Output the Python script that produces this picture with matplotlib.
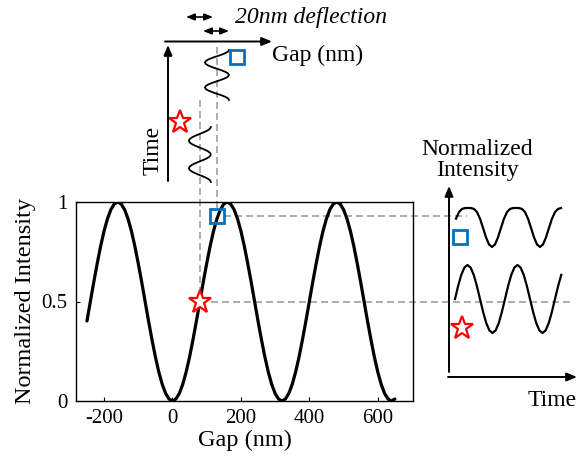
import matplotlib.pyplot as plt
import numpy as np

plt.rcParams['font.family'] = ['Liberation Serif', 'DejaVu Serif']

# main curve: normalized intensity read every 10 nm of gap
gap_nm = np.arange(-250, 660, 10)
intensity = [0.402, 0.5, 0.598, 0.691, 0.778, 0.854, 0.916, 0.962, 0.990, 1.0,
             0.990, 0.962, 0.916, 0.854, 0.778, 0.691, 0.598, 0.5, 0.402, 0.309,
             0.222, 0.146, 0.084, 0.038, 0.010, 0.0,
             0.010, 0.038, 0.084, 0.146, 0.222, 0.309, 0.402, 0.5,
             0.598, 0.691, 0.778, 0.854, 0.916, 0.962, 0.990, 1.0,
             0.990, 0.962, 0.916, 0.854, 0.778, 0.691, 0.598, 0.5,
             0.402, 0.309, 0.222, 0.146, 0.084, 0.038, 0.010, 0.0,
             0.010, 0.038, 0.084, 0.146, 0.222, 0.309, 0.402, 0.5,
             0.598, 0.691, 0.778, 0.854, 0.916, 0.962, 0.990, 1.0,
             0.990, 0.962, 0.916, 0.854, 0.778, 0.691, 0.598, 0.5,
             0.402, 0.309, 0.222, 0.146, 0.084, 0.038, 0.010, 0.0,
             0.010]

# operating points
star_gap, star_int = 80, 0.5
square_gap, square_int = 130, 0.93

xticks = [-200, 0, 200, 400, 600]
yticks = [0, 0.5, 1]
ytick_labels = ['0', '0.5', '1']

# gap vs time wiggle, one period sampled every 1/16
wiggle = [1, 0.924, 0.707, 0.383, 0, -0.383, -0.707, -0.924,
          -1, -0.924, -0.707, -0.383, 0, 0.383, 0.707, 0.924]

# intensity vs time traces (normalized 0..1), every 1/16 period
trace_square = [0.727, 0.895, 0.976, 0.998, 1.0, 0.998, 0.976, 0.895, 0.727,
                0.492, 0.249, 0.066, 0.0, 0.066, 0.249, 0.492, 0.727, 0.895,
                0.976, 0.998, 1.0, 0.998, 0.976, 0.895, 0.727, 0.492, 0.249,
                0.066, 0.0, 0.066, 0.249, 0.492, 0.727, 0.895, 0.976, 0.998]
trace_star = [0.5, 0.691, 0.854, 0.962, 1.0, 0.962, 0.854, 0.691, 0.5, 0.309,
              0.146, 0.038, 0.0, 0.038, 0.146, 0.309, 0.5, 0.691, 0.854, 0.962,
              1.0, 0.962, 0.854, 0.691, 0.5, 0.309, 0.146, 0.038, 0.0, 0.038,
              0.146, 0.309, 0.5, 0.691, 0.854]

W, H = 588, 459
blue = '#0072BD'
red = '#FF0000'
dash_col = '#a0a0a0'

fig = plt.figure(figsize=(W / 100, H / 100), dpi=100)

# overlay in pixel coordinates (y downwards) for the schematic parts
ov = fig.add_axes([0, 0, 1, 1], zorder=0)
ov.set_xlim(0, W)
ov.set_ylim(H, 0)
ov.axis('off')

ax = fig.add_axes([76 / W, (H - 401) / H, 337 / W, 199 / H], zorder=1)
ax.patch.set_alpha(0)
ax.plot(gap_nm, intensity, color='black', lw=2.3, solid_capstyle='round')
ax.set_xlim(-282, 703)
ax.set_ylim(0, 1)
ax.set_xticks(xticks)
ax.set_xticklabels([f'{t}' for t in xticks])
ax.set_yticks(yticks)
ax.set_yticklabels(ytick_labels)
ax.tick_params(direction='in', length=3, labelsize=15, pad=6)
ax.set_xlabel('Gap (nm)', fontsize=17.5, labelpad=1)
ax.set_ylabel('Normalized Intensity', fontsize=17.5, labelpad=4)
for s in ax.spines.values():
    s.set_linewidth(1.0)

ax.plot(star_gap, star_int, marker='*', ms=17, mfc='white', mec=red, mew=1.6, zorder=5)
ax.plot(square_gap, square_int, marker='s', ms=9.5, mfc='none', mec=blue, mew=2, zorder=5)


def to_px(x, y):
    dx, dy = ax.transData.transform((x, y))
    return dx, H - dy


sx, sy = to_px(star_gap, star_int)
qx, qy = to_px(square_gap, square_int)

dash_kw = dict(color=dash_col, lw=1.2, dashes=(4.2, 2.4))
ov.plot([sx, sx], [100, sy - 10], **dash_kw)
ov.plot([qx, qx], [47, qy - 7], **dash_kw)
ov.plot([sx + 11, 572], [sy, sy], **dash_kw)
ov.plot([qx + 7, 467], [qy, qy], **dash_kw)

# top schematic: gap axis and time axis
arrow_kw = dict(arrowstyle='-|>,head_length=0.6,head_width=0.25', color='black', lw=1.4,
                shrinkA=0, shrinkB=0)
ov.annotate('', xy=(272, 41.5), xytext=(165, 41.5), arrowprops=arrow_kw)
ov.annotate('', xy=(168, 45), xytext=(168, 181), arrowprops=arrow_kw)
dbl_kw = dict(arrowstyle='<|-|>,head_length=0.5,head_width=0.2', color='black', lw=1.2,
              shrinkA=0, shrinkB=0)
ov.annotate('', xy=(213, 17), xytext=(186, 17), arrowprops=dbl_kw)
ov.annotate('', xy=(229, 31), xytext=(203, 31), arrowprops=dbl_kw)
ov.text(235, 17, '20nm deflection', fontsize=17, style='italic', va='center', ha='left')
ov.text(272, 55, 'Gap (nm)', fontsize=17, va='center', ha='left')
ov.text(153, 150, 'Time', fontsize=17, rotation=90, va='center', ha='center')

# gap wiggles (time runs downward)
w_up = wiggle * 2 + [1]
y_up = 50 + np.arange(len(w_up)) * 25 / 16
ov.plot(qx + 12 * np.array(w_up), y_up, color='black', lw=1.3)
w_lo = wiggle * 2 + [1]
y_lo = 127 + np.arange(len(w_lo)) * 27.5 / 16
ov.plot(sx + 11 * np.array(w_lo), y_lo, color='black', lw=1.3)

ov.plot(237, 57, marker='s', ms=9.5, mfc='white', mec=blue, mew=2)
ov.plot(180, 122, marker='*', ms=17, mfc='white', mec=red, mew=1.6)

# right panel: intensity vs time
ov.annotate('', xy=(449, 186), xytext=(449, 372), arrowprops=arrow_kw)
ov.annotate('', xy=(577, 377), xytext=(448, 377), arrowprops=arrow_kw)
ov.text(477, 160, 'Normalized\nIntensity', fontsize=17, ha='center', va='center',
        linespacing=1.05)
ov.text(552, 401, 'Time', fontsize=17, ha='center', va='center')

x_sq = 456 + np.arange(len(trace_square)) * 3.0
ov.plot(x_sq, 247 - 39 * np.array(trace_square), color='black', lw=1.6)
x_st = 455 + np.arange(len(trace_star)) * 3.125
ov.plot(x_st, 333 - 68 * np.array(trace_star), color='black', lw=1.6)

ov.plot(460, 237, marker='s', ms=9.5, mfc='white', mec=blue, mew=2)
ov.plot(462, 328, marker='*', ms=17, mfc='white', mec=red, mew=1.6)

fig.savefig('out.png', dpi=100)
